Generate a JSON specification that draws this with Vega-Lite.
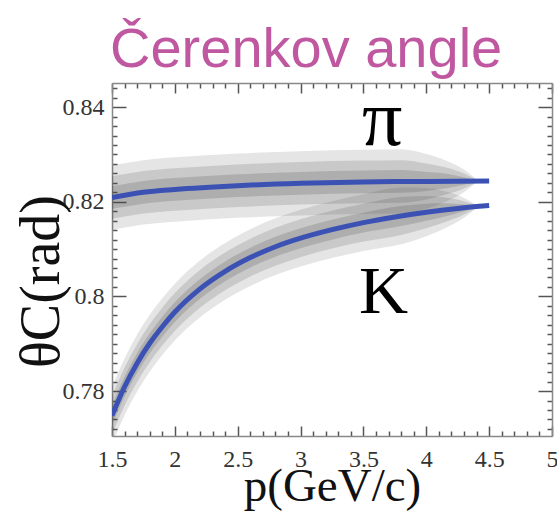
{
  "$schema": "https://vega.github.io/schema/vega-lite/v6.json",
  "width": 440,
  "height": 353,
  "autosize": "none",
  "padding": {"left": 112, "top": 83, "right": 5, "bottom": 78},
  "background": "white",
  "config": {
    "view": {"stroke": null},
    "axis": {
      "grid": false,
      "domainColor": "#888",
      "domainWidth": 1.5,
      "tickColor": "#555",
      "tickWidth": 1.5,
      "labelFont": "Liberation Serif",
      "labelFontSize": 24,
      "labelColor": "#333",
      "titleFont": "Liberation Serif",
      "titleFontWeight": "normal",
      "titleFontSize": 50,
      "titleColor": "#111"
    }
  },
  "title": {
    "text": "Čerenkov angle",
    "font": "Liberation Sans",
    "fontSize": 56,
    "fontWeight": "normal",
    "color": "#bf58a0",
    "anchor": "start",
    "frame": "group",
    "baseline": "alphabetic",
    "offset": 16,
    "dx": -2,
    "dy": 63
  },
  "datasets": {
    "bands": [
      {"particle": "pi", "p": 1.5, "lo1": 0.8141, "hi1": 0.8277, "lo2": 0.8164, "hi2": 0.8254, "lo3": 0.8185, "hi3": 0.8233},
      {"particle": "pi", "p": 1.75, "lo1": 0.8152, "hi1": 0.8288, "lo2": 0.8175, "hi2": 0.8265, "lo3": 0.8196, "hi3": 0.8244},
      {"particle": "pi", "p": 2.0, "lo1": 0.8158, "hi1": 0.8294, "lo2": 0.8181, "hi2": 0.8271, "lo3": 0.8202, "hi3": 0.825},
      {"particle": "pi", "p": 2.5, "lo1": 0.8166, "hi1": 0.8302, "lo2": 0.8189, "hi2": 0.8279, "lo3": 0.821, "hi3": 0.8258},
      {"particle": "pi", "p": 3.0, "lo1": 0.8171, "hi1": 0.8307, "lo2": 0.8194, "hi2": 0.8284, "lo3": 0.8215, "hi3": 0.8263},
      {"particle": "pi", "p": 3.5, "lo1": 0.8174, "hi1": 0.831, "lo2": 0.8197, "hi2": 0.8287, "lo3": 0.8218, "hi3": 0.8266},
      {"particle": "pi", "p": 3.8, "lo1": 0.8175, "hi1": 0.8311, "lo2": 0.8198, "hi2": 0.8288, "lo3": 0.8219, "hi3": 0.8267},
      {"particle": "pi", "p": 4.0, "lo1": 0.8185, "hi1": 0.8301, "lo2": 0.8205, "hi2": 0.8281, "lo3": 0.8223, "hi3": 0.8263},
      {"particle": "pi", "p": 4.15, "lo1": 0.82, "hi1": 0.8288, "lo2": 0.8215, "hi2": 0.8273, "lo3": 0.8228, "hi3": 0.826},
      {"particle": "pi", "p": 4.3, "lo1": 0.822, "hi1": 0.8268, "lo2": 0.8228, "hi2": 0.826, "lo3": 0.8236, "hi3": 0.8252},
      {"particle": "pi", "p": 4.4, "lo1": 0.8241, "hi1": 0.8247, "lo2": 0.8242, "hi2": 0.8246, "lo3": 0.8243, "hi3": 0.8245},
      {"particle": "K", "p": 1.5, "lo1": 0.7688, "hi1": 0.7808, "lo2": 0.7708, "hi2": 0.7788, "lo3": 0.7727, "hi3": 0.7769},
      {"particle": "K", "p": 1.6, "lo1": 0.7749, "hi1": 0.7869, "lo2": 0.7769, "hi2": 0.7849, "lo3": 0.7788, "hi3": 0.783},
      {"particle": "K", "p": 1.7, "lo1": 0.7799, "hi1": 0.7919, "lo2": 0.7819, "hi2": 0.7899, "lo3": 0.7838, "hi3": 0.788},
      {"particle": "K", "p": 1.8, "lo1": 0.7841, "hi1": 0.7961, "lo2": 0.7861, "hi2": 0.7941, "lo3": 0.788, "hi3": 0.7922},
      {"particle": "K", "p": 1.9, "lo1": 0.7876, "hi1": 0.7996, "lo2": 0.7896, "hi2": 0.7976, "lo3": 0.7915, "hi3": 0.7957},
      {"particle": "K", "p": 2.0, "lo1": 0.7907, "hi1": 0.8027, "lo2": 0.7927, "hi2": 0.8007, "lo3": 0.7946, "hi3": 0.7988},
      {"particle": "K", "p": 2.2, "lo1": 0.7956, "hi1": 0.8076, "lo2": 0.7976, "hi2": 0.8056, "lo3": 0.7995, "hi3": 0.8037},
      {"particle": "K", "p": 2.4, "lo1": 0.7993, "hi1": 0.8113, "lo2": 0.8013, "hi2": 0.8093, "lo3": 0.8032, "hi3": 0.8074},
      {"particle": "K", "p": 2.6, "lo1": 0.8022, "hi1": 0.8142, "lo2": 0.8042, "hi2": 0.8122, "lo3": 0.8061, "hi3": 0.8103},
      {"particle": "K", "p": 2.8, "lo1": 0.8045, "hi1": 0.8165, "lo2": 0.8065, "hi2": 0.8145, "lo3": 0.8084, "hi3": 0.8126},
      {"particle": "K", "p": 3.0, "lo1": 0.8063, "hi1": 0.8183, "lo2": 0.8083, "hi2": 0.8163, "lo3": 0.8102, "hi3": 0.8144},
      {"particle": "K", "p": 3.25, "lo1": 0.8081, "hi1": 0.8201, "lo2": 0.8101, "hi2": 0.8181, "lo3": 0.812, "hi3": 0.8162},
      {"particle": "K", "p": 3.5, "lo1": 0.8096, "hi1": 0.8216, "lo2": 0.8116, "hi2": 0.8196, "lo3": 0.8135, "hi3": 0.8177},
      {"particle": "K", "p": 3.8, "lo1": 0.811, "hi1": 0.823, "lo2": 0.813, "hi2": 0.821, "lo3": 0.8149, "hi3": 0.8191},
      {"particle": "K", "p": 4.0, "lo1": 0.8127, "hi1": 0.8229, "lo2": 0.8144, "hi2": 0.8212, "lo3": 0.816, "hi3": 0.8196},
      {"particle": "K", "p": 4.15, "lo1": 0.8144, "hi1": 0.8222, "lo2": 0.8157, "hi2": 0.8209, "lo3": 0.8169, "hi3": 0.8197},
      {"particle": "K", "p": 4.3, "lo1": 0.8166, "hi1": 0.8208, "lo2": 0.8173, "hi2": 0.8201, "lo3": 0.818, "hi3": 0.8194},
      {"particle": "K", "p": 4.4, "lo1": 0.8187, "hi1": 0.8193, "lo2": 0.8188, "hi2": 0.8192, "lo3": 0.8189, "hi3": 0.8191}
    ],
    "curves": [
      {"particle": "pi", "p": 1.5, "theta": 0.8209},
      {"particle": "pi", "p": 1.75, "theta": 0.822},
      {"particle": "pi", "p": 2.0, "theta": 0.8226},
      {"particle": "pi", "p": 2.5, "theta": 0.8234},
      {"particle": "pi", "p": 3.0, "theta": 0.8239},
      {"particle": "pi", "p": 3.5, "theta": 0.8242},
      {"particle": "pi", "p": 4.0, "theta": 0.8243},
      {"particle": "pi", "p": 4.5, "theta": 0.8244},
      {"particle": "K", "p": 1.5, "theta": 0.7748},
      {"particle": "K", "p": 1.6, "theta": 0.7809},
      {"particle": "K", "p": 1.7, "theta": 0.7859},
      {"particle": "K", "p": 1.8, "theta": 0.7901},
      {"particle": "K", "p": 1.9, "theta": 0.7936},
      {"particle": "K", "p": 2.0, "theta": 0.7967},
      {"particle": "K", "p": 2.2, "theta": 0.8016},
      {"particle": "K", "p": 2.4, "theta": 0.8053},
      {"particle": "K", "p": 2.6, "theta": 0.8082},
      {"particle": "K", "p": 2.8, "theta": 0.8105},
      {"particle": "K", "p": 3.0, "theta": 0.8123},
      {"particle": "K", "p": 3.25, "theta": 0.8141},
      {"particle": "K", "p": 3.5, "theta": 0.8156},
      {"particle": "K", "p": 3.75, "theta": 0.8168},
      {"particle": "K", "p": 4.0, "theta": 0.8178},
      {"particle": "K", "p": 4.25, "theta": 0.8186},
      {"particle": "K", "p": 4.5, "theta": 0.8192}
    ],
    "labels": [
      {"text": "π", "p": 3.65, "theta": 0.832},
      {"text": "K", "p": 3.66, "theta": 0.7964}
    ]
  },
  "resolve": {"axis": {"x": "independent", "y": "independent"}},
  "layer": [
    {
      "data": {"name": "bands"},
      "mark": {"type": "area", "color": "#444", "opacity": 0.14, "interpolate": "monotone", "clip": true},
      "encoding": {
        "detail": {"field": "particle"},
        "x": {
          "field": "p", "type": "quantitative",
          "scale": {"domain": [1.5, 5], "nice": false, "zero": false},
          "axis": {
            "orient": "bottom",
            "title": "p(GeV/c)",
            "titleFont": "Liberation Serif",
            "titleFontSize": 47,
            "titleX": 220, "titleY": 64, "titleBaseline": "alphabetic", "titleAlign": "center",
            "values": [1.5,1.6,1.7,1.8,1.9,2,2.1,2.2,2.3,2.4,2.5,2.6,2.7,2.8,2.9,3,3.1,3.2,3.3,3.4,3.5,3.6,3.7,3.8,3.9,4,4.1,4.2,4.3,4.4,4.5,4.6,4.7,4.8,4.9,5],
            "format": "~g",
            "labelFont": "Liberation Serif",
            "labelFontSize": 24,
            "labelExpr": "abs(datum.value*2 - round(datum.value*2)) < 0.001 ? datum.label : ''",
            "tickSize": {"condition": {"test": "abs(datum.value*2 - round(datum.value*2)) < 0.001", "value": -10}, "value": -5},
            "labelPadding": 21,
            "labelFlush": false,
            "labelOverlap": false
          }
        },
        "y": {
          "field": "lo1", "type": "quantitative",
          "scale": {"domain": [0.7705, 0.8451], "nice": false, "zero": false},
          "axis": {
            "orient": "left",
            "title": "θC(rad)",
            "titleFont": "Liberation Serif",
            "titleFontSize": 56,
            "titleX": -54, "titleY": 198, "titleBaseline": "alphabetic", "titleAlign": "center", "titleAngle": 270,
            "values": [0.772,0.774,0.776,0.778,0.78,0.782,0.784,0.786,0.788,0.79,0.792,0.794,0.796,0.798,0.8,0.802,0.804,0.806,0.808,0.81,0.812,0.814,0.816,0.818,0.82,0.822,0.824,0.826,0.828,0.83,0.832,0.834,0.836,0.838,0.84,0.842,0.844],
            "format": "~g",
            "labelFont": "Liberation Serif",
            "labelFontSize": 24,
            "labelExpr": "abs(datum.value*50 - round(datum.value*50)) < 0.001 ? datum.label : ''",
            "tickSize": {"condition": {"test": "abs(datum.value*50 - round(datum.value*50)) < 0.001", "value": -14}, "value": -5},
            "labelPadding": 22,
            "labelFlush": false,
            "labelOverlap": false
          }
        },
        "y2": {"field": "hi1"}
      }
    },
    {
      "data": {"name": "bands"},
      "mark": {"type": "area", "color": "#444", "opacity": 0.17, "interpolate": "monotone", "clip": true},
      "encoding": {
        "detail": {"field": "particle"},
        "x": {"field": "p", "type": "quantitative", "scale": {"domain": [1.5, 5], "nice": false, "zero": false}, "axis": null},
        "y": {"field": "lo2", "type": "quantitative", "scale": {"domain": [0.7705, 0.8451], "nice": false, "zero": false}, "axis": null},
        "y2": {"field": "hi2"}
      }
    },
    {
      "data": {"name": "bands"},
      "mark": {"type": "area", "color": "#444", "opacity": 0.2, "interpolate": "monotone", "clip": true},
      "encoding": {
        "detail": {"field": "particle"},
        "x": {"field": "p", "type": "quantitative", "scale": {"domain": [1.5, 5], "nice": false, "zero": false}, "axis": null},
        "y": {"field": "lo3", "type": "quantitative", "scale": {"domain": [0.7705, 0.8451], "nice": false, "zero": false}, "axis": null},
        "y2": {"field": "hi3"}
      }
    },
    {
      "data": {"name": "curves"},
      "mark": {"type": "line", "color": "#3b52b4", "strokeWidth": 5, "interpolate": "monotone", "clip": true},
      "encoding": {
        "detail": {"field": "particle"},
        "x": {
          "field": "p", "type": "quantitative",
          "scale": {"domain": [1.5, 5], "nice": false, "zero": false},
          "axis": {
            "orient": "top", "title": null, "labels": false,
            "values": [1.5,1.6,1.7,1.8,1.9,2,2.1,2.2,2.3,2.4,2.5,2.6,2.7,2.8,2.9,3,3.1,3.2,3.3,3.4,3.5,3.6,3.7,3.8,3.9,4,4.1,4.2,4.3,4.4,4.5,4.6,4.7,4.8,4.9,5],
            "tickSize": {"condition": {"test": "abs(datum.value*2 - round(datum.value*2)) < 0.001", "value": -10}, "value": -5}
          }
        },
        "y": {
          "field": "theta", "type": "quantitative",
          "scale": {"domain": [0.7705, 0.8451], "nice": false, "zero": false},
          "axis": {
            "orient": "right", "title": null, "labels": false,
            "values": [0.772,0.774,0.776,0.778,0.78,0.782,0.784,0.786,0.788,0.79,0.792,0.794,0.796,0.798,0.8,0.802,0.804,0.806,0.808,0.81,0.812,0.814,0.816,0.818,0.82,0.822,0.824,0.826,0.828,0.83,0.832,0.834,0.836,0.838,0.84,0.842,0.844],
            "tickSize": {"condition": {"test": "abs(datum.value*50 - round(datum.value*50)) < 0.001", "value": -14}, "value": -5}
          }
        }
      }
    },
    {
      "data": {"name": "labels"},
      "mark": {"type": "text", "font": "Liberation Serif", "color": "#000", "align": "center", "baseline": "alphabetic"},
      "encoding": {
        "x": {"field": "p", "type": "quantitative", "scale": {"domain": [1.5, 5], "nice": false, "zero": false}, "axis": null},
        "y": {"field": "theta", "type": "quantitative", "scale": {"domain": [0.7705, 0.8451], "nice": false, "zero": false}, "axis": null},
        "text": {"field": "text"},
        "size": {"condition": {"test": "datum.text === 'π'", "value": 80}, "value": 68}
      }
    }
  ]
}
